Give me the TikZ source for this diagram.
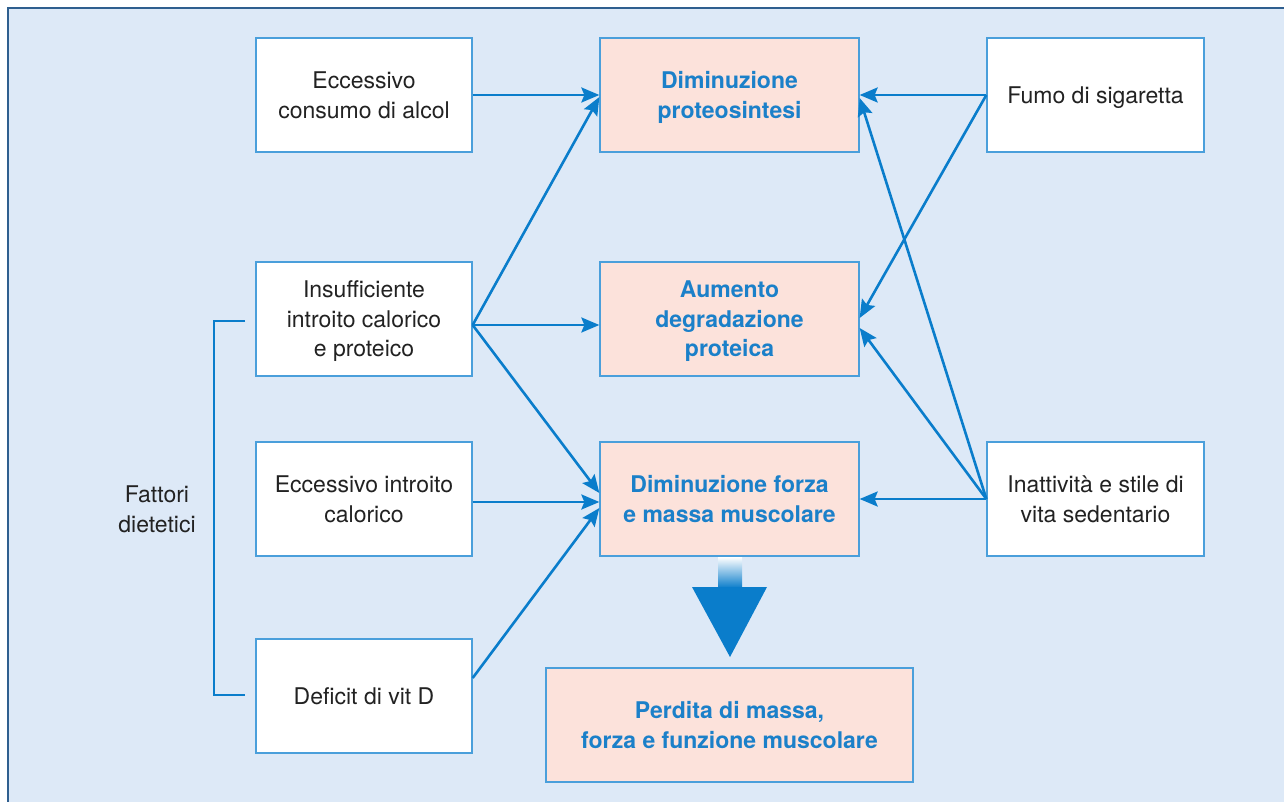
\documentclass[tikz,border=0pt]{standalone}
\usepackage{fontspec}
\setmainfont{TeX Gyre Heros}
\usetikzlibrary{arrows.meta,calc}
\definecolor{bg}{HTML}{DDE9F7}
\definecolor{framec}{HTML}{2F5F8F}
\definecolor{boxline}{HTML}{4A9FDB}
\definecolor{arr}{HTML}{0A7DCB}
\definecolor{pinkc}{HTML}{FCE2DB}
\definecolor{btext}{HTML}{1B80C9}
\definecolor{txt}{HTML}{222222}
\begin{document}
\begin{tikzpicture}[x=1pt,y=-1pt,
 box/.style={draw=boxline,line width=1.3pt,minimum width=216pt,minimum height=114pt,inner sep=0pt,align=center,text depth=-3.5pt,font=\fontsize{23}{29.5}\selectfont,text=txt},
 wbox/.style={box,fill=white},
 pbox/.style={box,fill=pinkc,text=btext,font=\fontsize{23}{29.5}\selectfont\bfseries},
 conn/.style={draw=arr,line width=2.6pt,-{Stealth[length=18pt,width=15pt,inset=3pt]}},
 bracketline/.style={draw=arr,line width=2.6pt}]
\useasboundingbox (0,0) rectangle (1284,802);
\clip (0,0) rectangle (1284,802);
\fill[white] (0,0) rectangle (1284,802);
\draw[framec,fill=bg,line width=2pt] (8,8) rectangle (1320,840);

\node[wbox] (alc) at (364,95) {Eccessivo\\consumo di alcol};
\node[pbox,minimum width=259pt] (prot) at (729.5,95) {Diminuzione\\proteosintesi};
\node[wbox,minimum width=217pt] (fumo) at (1095.5,95) {Fumo di sigaretta};
\node[wbox] (ins) at (364,319) {Insufficiente\\introito calorico\\e proteico};
\node[pbox,minimum width=259pt] (aum) at (729.5,319) {Aumento\\degradazione\\proteica};
\node[wbox] (ecc) at (364,499) {Eccessivo introito\\calorico};
\node[pbox,minimum width=259pt] (forza) at (729.5,499) {Diminuzione forza\\e massa muscolare};
\node[wbox,minimum width=217pt] (inat) at (1095.5,499) {Inattività e stile di\\vita sedentario};
\node[wbox] (def) at (364,696) {Deficit di vit D};
\node[pbox,minimum width=367pt] (perd) at (729.5,725) {Perdita di massa,\\forza e funzione muscolare};
\node[align=center,text=txt,text depth=-2pt,font=\fontsize{23}{29.5}\selectfont] (fatt) at (157,509) {Fattori\\dietetici};

% bracket
\coordinate (bt) at (245,321);
\coordinate (bb) at (245,695);
\draw[bracketline] (bt) -- (214,321) -- (214,695) -- (bb);

% left arrows
\coordinate (insout) at ([yshift=-6pt]ins.east);
\draw[conn] (alc.east) -- (prot.west);
\draw[conn] (insout) -- ([yshift=-2pt]prot.west);
\draw[conn] (insout) -- ([yshift=-6pt]aum.west);
\draw[conn] (insout) -- ([yshift=6pt]forza.west);
\draw[conn] ([yshift=-3pt]ecc.east) -- ([yshift=-3pt]forza.west);
\draw[conn] ([yshift=18pt]def.east) -- ([yshift=-9pt]forza.west);

% right arrows
\draw[conn] (fumo.west) -- (prot.east);
\draw[conn] (fumo.west) -- ([yshift=1pt]aum.east);
\draw[conn] (inat.west) -- (forza.east);
\draw[conn] (inat.west) -- ([yshift=-9pt]aum.east);
\draw[conn] (inat.west) -- ([yshift=-3pt]prot.east);

% big arrow
\shade[top color=white,bottom color=arr] (718,557) rectangle (742,588);
\fill[arr] (692,587) -- (767,587) -- (730,657) -- cycle;
\end{tikzpicture}
\end{document}
